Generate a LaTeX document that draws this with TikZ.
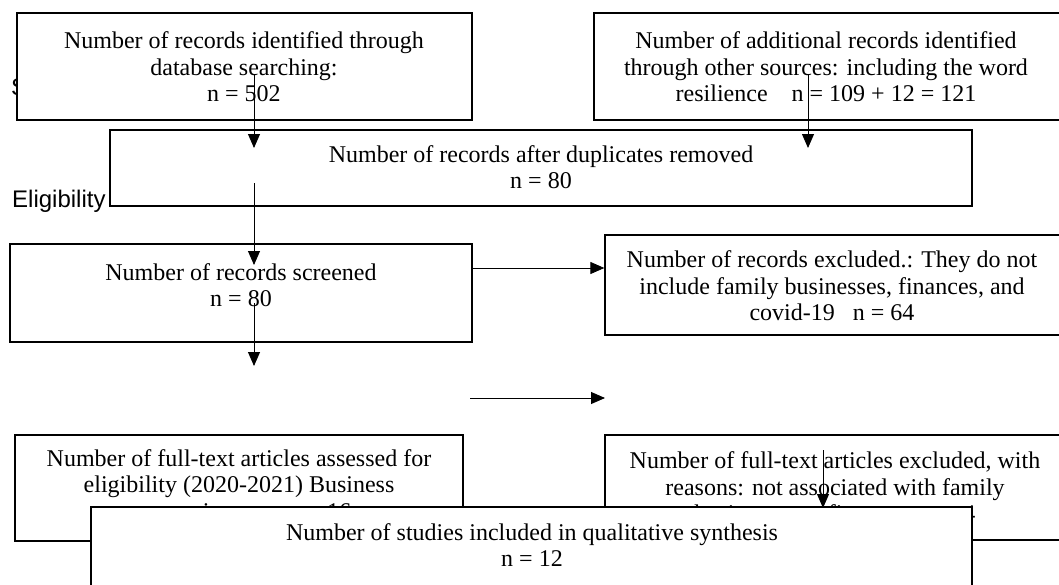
\documentclass[tikz,border=0pt]{standalone}
\usepackage{fontspec}
\setmainfont{Liberation Serif}
\newfontfamily\labfont{Liberation Sans}
\usetikzlibrary{arrows.meta}
\begin{document}
\begin{tikzpicture}[x=1pt,y=-1pt,
  box/.style={draw=black,line width=1.3pt,fill=white,rectangle,inner sep=0pt},
  txt/.style={align=center,inner sep=0pt,font={\fontsize{24}{26.5}\selectfont}},
  lab/.style={inner sep=0pt,anchor=base west,font={\labfont\fontsize{24}{26}\selectfont}},
  arr/.style={draw=black,line width=0.9pt,-{Triangle[length=14pt,width=12pt]}}]
\useasboundingbox (0,0) rectangle (1059,584);
\clip (0,0) rectangle (1059,584);
\fill[white] (0,0) rectangle (1059,584);
% side labels
\node[lab] (screening) at (11,95) {Screening};
\node[lab] (eligibility) at (12,207) {Eligibility};
% boxes and texts
\node[box,minimum width=455pt,minimum height=107pt] (A) at (244.5,66.5) {};
\node[txt] (At) at (244,67) {Number of records identified through\\database searching:\\n = 502};
\node[box,minimum width=466pt,minimum height=107pt] (B) at (827,66.5) {};
\node[txt] (Bt) at (826,67) {Number of additional records identified\\through other sources: including the word\\resilience\hspace{1em}n = 109 + 12 = 121};
\node[box,minimum width=862pt,minimum height=76pt] (C) at (541,168) {};
\node[txt] (Ct) at (541,167) {Number of records after duplicates removed\\n = 80};
\node[box,minimum width=462pt,minimum height=98pt] (D) at (241,293) {};
\node[txt] (Dt) at (241,285) {Number of records screened\\n = 80};
\node[box,minimum width=457pt,minimum height=100pt] (E) at (833.5,285) {};
\node[txt] (Et) at (832,286) {Number of records excluded.: They do not\\include family businesses, finances, and\\covid-19\hspace{0.75em}n = 64};
\node[box,minimum width=448pt,minimum height=106pt] (F) at (239,488) {};
\node[txt] (Ft) at (239,487) {Number of full-text articles assessed for\\eligibility (2020-2021) Business\\companies\hspace{2.5em}n = 16};
\node[box,minimum width=457pt,minimum height=105pt] (H) at (833.5,487.5) {};
\node[txt] (Ht) at (835,487) {Number of full-text articles excluded, with\\reasons: not associated with family\\businesses or finances\hspace{0.75em}n = 4};
\node[box,minimum width=881pt,minimum height=93pt] (G) at (531.5,553.5) {};
\node[txt] (Gt) at (532,545) {Number of studies included in qualitative synthesis\\n = 12};
% arrow end points
\coordinate (a1s) at (254,75);  \coordinate (a1e) at (254,148);
\coordinate (a2s) at (808,75);  \coordinate (a2e) at (808,148);
\coordinate (a3s) at (254,183); \coordinate (a3e) at (254,265);
\coordinate (a4s) at (254,303); \coordinate (a4e) at (254,366);
\coordinate (a5y) at (0,268);
\coordinate (a6s) at (470,398); \coordinate (a6e) at (605,398);
\coordinate (a7s) at (823,450); \coordinate (a7e) at (823,508);
% arrows
\draw[arr] (a1s) -- (a1e);
\draw[arr] (a2s) -- (a2e);
\draw[arr] (a3s) -- (a3e);
\draw[arr] (a4s) -- (a4e);
\draw[arr] (D.east |- a5y) -- (E.west |- a5y);
\draw[arr] (a6s) -- (a6e);
\draw[arr] (a7s) -- (a7e);
\end{tikzpicture}
\end{document}
